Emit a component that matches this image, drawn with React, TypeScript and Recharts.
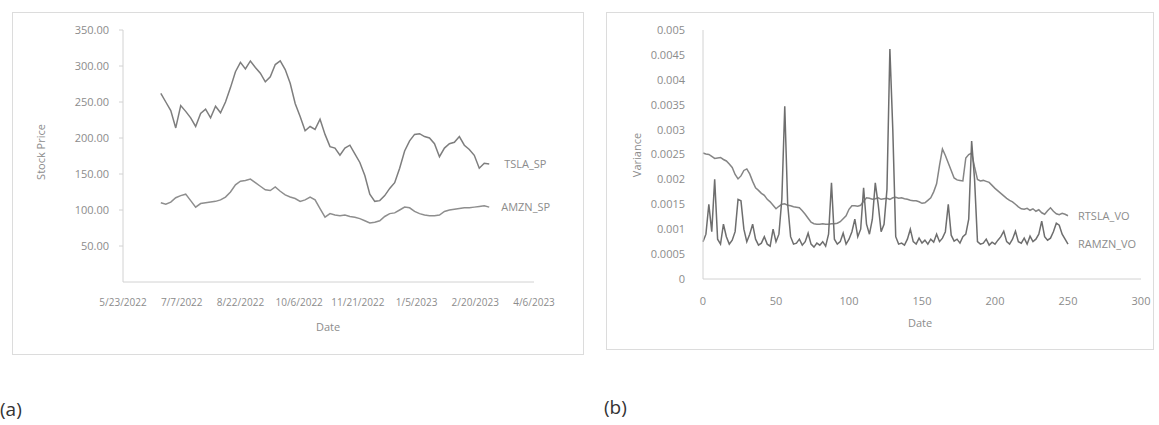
import { Line, LineChart, XAxis, YAxis } from 'recharts';

// (a) daily closing prices (evenly spaced trading days)
const tslaSp = [
  262, 250, 238, 214, 245, 237, 228, 216, 234, 240, 228, 244, 235, 250, 270, 292, 305, 296, 307, 298,
  290, 278, 285, 302, 307, 295, 276, 248, 230, 210, 216, 212, 226, 205, 188, 186, 176, 186, 190, 178,
  166, 148, 122, 112, 113, 120, 130, 138, 158, 182, 196, 205, 206, 202, 200, 192, 174, 186, 192, 194,
  202, 190, 184, 176, 158, 165, 164,
];
const amznSp = [
  110, 108, 111, 117, 120, 122, 113, 104, 109, 110, 111, 112, 114, 118, 125, 135, 140, 141, 143, 138,
  133, 128, 127, 132, 126, 121, 118, 116, 112, 114, 118, 114, 102, 90, 95, 93, 92, 93, 91, 90,
  88, 85, 82, 83, 85, 91, 95, 96, 100, 104, 103, 98, 95, 93, 92, 92, 93, 98, 100, 101,
  102, 103, 103, 104, 105, 106, 104,
];
const dateLabels = [
  '5/23/2022', '7/7/2022', '8/22/2022', '10/6/2022',
  '11/21/2022', '1/5/2023', '2/20/2023', '4/6/2023',
];
const priceTicks = [50, 100, 150, 200, 250, 300, 350];

// (b) variance series, every second day 0..250
const rtslaVo = [
  0.00253, 0.00251, 0.0025, 0.00246, 0.00242, 0.00243, 0.00244, 0.0024, 0.00237, 0.00231,
  0.00224, 0.0021, 0.00201, 0.00207, 0.00218, 0.00221, 0.00211, 0.00196, 0.00183, 0.00178,
  0.00172, 0.00168, 0.0016, 0.00155, 0.00148, 0.00141, 0.00146, 0.0015, 0.00151, 0.00148,
  0.00147, 0.00145, 0.00144, 0.00143, 0.00137, 0.0013, 0.00122, 0.00114, 0.00111, 0.0011,
  0.0011, 0.00111, 0.0011, 0.0011, 0.00111, 0.00111, 0.00112, 0.00115, 0.00121, 0.00127,
  0.0014, 0.00147, 0.00147, 0.00146, 0.00148, 0.00156, 0.00163, 0.00162, 0.0016, 0.00161,
  0.00163, 0.0016, 0.00161, 0.00162, 0.0016, 0.00163, 0.00164, 0.00162, 0.00163, 0.00161,
  0.0016, 0.00158, 0.00157, 0.00157, 0.00155, 0.00152, 0.00153, 0.00158, 0.00163, 0.00175,
  0.00191, 0.00228, 0.00261, 0.00248, 0.00233, 0.00218, 0.00203, 0.00199, 0.00198, 0.00197,
  0.00243, 0.0025, 0.00253, 0.00225, 0.002, 0.00197, 0.00198, 0.00196, 0.00194, 0.00188,
  0.00182, 0.00177, 0.00172, 0.00167, 0.00162, 0.00158, 0.00155, 0.0015, 0.00145, 0.00141,
  0.0014, 0.00142, 0.00138, 0.00141, 0.00136, 0.00139, 0.00133, 0.0013, 0.00137, 0.00143,
  0.00136, 0.00131, 0.00129, 0.00132, 0.0013, 0.00127,
];
const ramznVo = [
  0.00075, 0.0009, 0.0015, 0.00095, 0.002, 0.0008, 0.0007, 0.0011, 0.00085, 0.0007,
  0.00078, 0.00095, 0.0016, 0.00157, 0.001, 0.00075, 0.0009, 0.0011, 0.0008, 0.00068,
  0.00072, 0.00085, 0.0007, 0.00066, 0.001, 0.00075, 0.0009, 0.0016, 0.00347, 0.0015,
  0.00085, 0.0007, 0.00072, 0.0008, 0.00068, 0.00075, 0.00092, 0.0007, 0.00064, 0.00072,
  0.00068, 0.00075, 0.00066, 0.0009, 0.00193, 0.0008, 0.0007, 0.00075, 0.00092, 0.0007,
  0.0008, 0.00095, 0.0012, 0.00085, 0.001, 0.00183, 0.0011, 0.0009, 0.0012, 0.00193,
  0.0015, 0.00095, 0.0011, 0.0018, 0.00462, 0.003, 0.00085, 0.0007, 0.00072, 0.00068,
  0.0008, 0.001, 0.00075, 0.0007, 0.00082, 0.00072, 0.00078, 0.0007, 0.0008, 0.00074,
  0.0009, 0.00075, 0.00082, 0.00095, 0.0015, 0.00088, 0.00076, 0.0008, 0.00072, 0.00085,
  0.0009, 0.0012, 0.00277, 0.002, 0.00075, 0.0007, 0.00072, 0.0008, 0.00068, 0.00074,
  0.0007, 0.00078, 0.00085, 0.00096, 0.00075, 0.0007, 0.0008, 0.00096, 0.00075, 0.00072,
  0.00082, 0.0007, 0.00086, 0.00075, 0.0008, 0.0009, 0.00116, 0.00085, 0.00078, 0.00082,
  0.00095, 0.00112, 0.00108, 0.0009, 0.0008, 0.0007,
];
const varianceTicks = [0, 0.0005, 0.001, 0.0015, 0.002, 0.0025, 0.003, 0.0035, 0.004, 0.0045, 0.005];
const dayTicks = [0, 50, 100, 150, 200, 250, 300];

const FONT = '"Open Sans", "Liberation Sans", sans-serif';
const TICK = { fontSize: 11, fill: '#8c8c8c', fontFamily: FONT };
const AXIS = { stroke: '#d2d2d2' };

const priceData = tslaSp.map((v, i) => ({ i, tsla: v, amzn: amznSp[i] }));
const varData = rtslaVo.map((v, i) => ({ day: i * 2, tsla: v, amzn: ramznVo[i] }));

const dateDomain: [number, number] = [-7.6, 75];
const dateTicks = dateLabels.map(
  (_, k) => dateDomain[0] + (k * (dateDomain[1] - dateDomain[0])) / (dateLabels.length - 1),
);

function endLabel(name: string, last: number, dx: number) {
  return (p: any) => {
    if (p.index !== last) return null;
    return (
      <text x={p.x + dx} y={p.y} dy={4} fontSize={11} fill="#8c8c8c" fontFamily={FONT}>
        {name}
      </text>
    );
  };
}

function Title({ x, y, text, rotate }: { x: number; y: number; text: string; rotate?: boolean }) {
  return (
    <div
      style={{
        position: 'absolute',
        left: x,
        top: y,
        transform: `translate(-50%, -50%)${rotate ? ' rotate(-90deg)' : ''}`,
        whiteSpace: 'nowrap',
        fontSize: 11,
        color: '#8c8c8c',
        fontFamily: FONT,
      }}
    >
      {text}
    </div>
  );
}

const box = { position: 'absolute' as const, border: '1px solid #dcdcdc', background: '#fff' };

export default function App() {
  return (
    <div style={{ position: 'absolute', left: 0, top: 0, width: 1159, height: 425, background: '#fff', fontFamily: FONT }}>
      <div style={{ ...box, left: 12, top: 12, width: 570, height: 341 }}>
        <LineChart width={570} height={341} data={priceData} margin={{ top: 17, right: 49, left: 20, bottom: 42 }}>
          <XAxis
            dataKey="i"
            type="number"
            domain={dateDomain}
            ticks={dateTicks}
            interval={0}
            tickFormatter={(_, k) => dateLabels[k] ?? ''}
            tick={{ ...TICK, fontSize: 10 }}
            axisLine={AXIS}
            tickLine={false}
            tickMargin={11}
            height={30}
            allowDataOverflow
          />
          <YAxis
            type="number"
            domain={[0, 350]}
            ticks={priceTicks}
            tickFormatter={(v) => v.toFixed(2)}
            tick={TICK}
            axisLine={AXIS}
            tickLine={{ stroke: '#d2d2d2' }}
            tickSize={4}
            tickMargin={10}
            width={90}
          />
          <Line
            dataKey="tsla"
            stroke="#7e7e7e"
            strokeWidth={1.5}
            dot={false}
            isAnimationActive={false}
            label={endLabel('TSLA_SP', tslaSp.length - 1, 15)}
          />
          <Line
            dataKey="amzn"
            stroke="#8e8e8e"
            strokeWidth={1.5}
            dot={false}
            isAnimationActive={false}
            label={endLabel('AMZN_SP', amznSp.length - 1, 12)}
          />
        </LineChart>
      </div>
      <Title x={40} y={152} text="Stock Price" rotate />
      <Title x={328} y={326} text="Date" />

      <div style={{ ...box, left: 606, top: 12, width: 546, height: 336 }}>
        <LineChart width={546} height={336} data={varData} margin={{ top: 17, right: 12, left: 16, bottom: 40 }}>
          <XAxis
            dataKey="day"
            type="number"
            domain={[0, 300]}
            ticks={dayTicks}
            interval={0}
            tick={TICK}
            axisLine={AXIS}
            tickLine={false}
            tickMargin={12}
            height={30}
          />
          <YAxis
            type="number"
            domain={[0, 0.005]}
            ticks={varianceTicks}
            tickFormatter={(v) => String(v)}
            tick={TICK}
            axisLine={AXIS}
            tickLine={false}
            tickMargin={12}
            width={80}
          />
          <Line
            dataKey="tsla"
            stroke="#858585"
            strokeWidth={1.5}
            dot={false}
            isAnimationActive={false}
            label={endLabel('RTSLA_VO', rtslaVo.length - 1, 10)}
          />
          <Line
            dataKey="amzn"
            stroke="#6e6e6e"
            strokeWidth={1.5}
            dot={false}
            isAnimationActive={false}
            label={endLabel('RAMZN_VO', ramznVo.length - 1, 10)}
          />
        </LineChart>
      </div>
      <Title x={636} y={155} text="Variance" rotate />
      <Title x={920} y={322} text="Date" />

      <div style={{ position: 'absolute', left: 0, top: 396, fontSize: 19, color: '#333', fontFamily: FONT }}>(a)</div>
      <div style={{ position: 'absolute', left: 604, top: 394, fontSize: 19, color: '#333', fontFamily: FONT }}>(b)</div>
    </div>
  );
}
